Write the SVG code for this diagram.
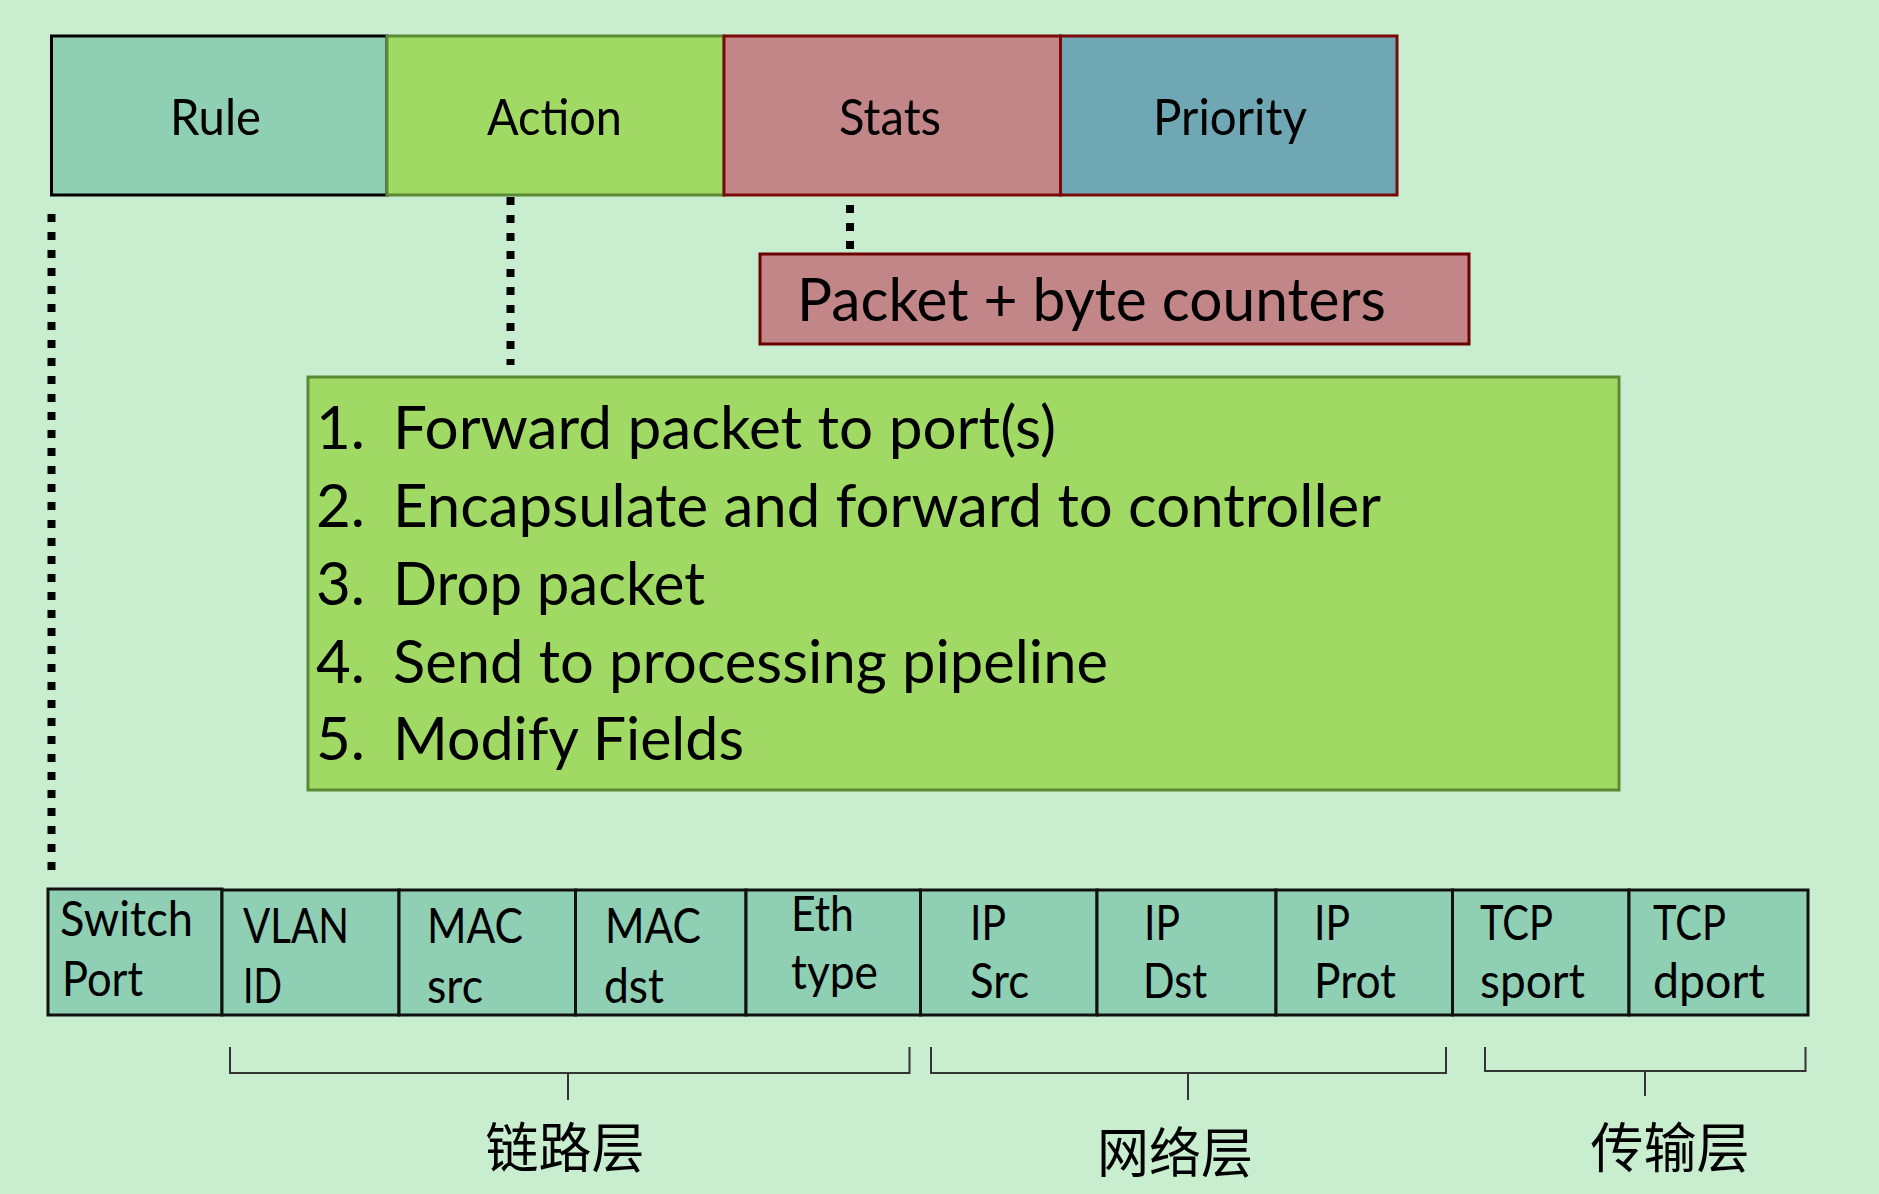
<svg xmlns="http://www.w3.org/2000/svg" width="1879" height="1194" viewBox="0 0 1879 1194">
<style>
.t{font-family:Lato,"Open Sans","Liberation Sans",sans-serif;fill:#000}
.top{font-size:50px}
.cell{font-size:48px}
.list{font-size:60px}
.cjk{font-family:"Noto Sans CJK SC","Noto Sans",sans-serif;font-size:54px;fill:#000}
.fld{fill:#8FCFB3;stroke:#111;stroke-width:3}
.dots{fill:none;stroke:#000;stroke-width:8;stroke-dasharray:8 10}
.brace{fill:none;stroke:#333;stroke-width:2}
</style>
<rect width="1879" height="1194" fill="#C8EDCF"/>

<g id="connectors">
<line class="dots" x1="51.5" y1="214" x2="51.5" y2="880"/>
<line class="dots" x1="510.5" y1="197" x2="510.5" y2="365"/>
<line class="dots" x1="850" y1="205" x2="850" y2="250"/>
</g>

<g id="rule"><rect x="51.5" y="36" width="335.5" height="159" fill="#8FD0B4" stroke="#000" stroke-width="3"/>
<text class="t top" x="170" y="135" textLength="91" lengthAdjust="spacingAndGlyphs">Rule</text></g>
<g id="action"><rect x="387" y="36" width="337" height="159" fill="#A0DA64" stroke="#5B8A35" stroke-width="3"/>
<text class="t top" x="487" y="135" textLength="135" lengthAdjust="spacingAndGlyphs">Action</text></g>
<g id="stats"><rect x="724" y="36" width="336.5" height="159" fill="#C38688" stroke="#7A0A0A" stroke-width="3"/>
<text class="t top" x="839" y="135" textLength="102" lengthAdjust="spacingAndGlyphs">Stats</text></g>
<g id="priority"><rect x="1060.5" y="36" width="336.5" height="159" fill="#6FA7B5" stroke="#7A0A0A" stroke-width="3"/>
<text class="t top" x="1153" y="135" textLength="154" lengthAdjust="spacingAndGlyphs">Priority</text></g>

<g id="counters"><rect x="760" y="254" width="709" height="90" fill="#C38688" stroke="#6B0000" stroke-width="3"/>
<text class="t list" x="797" y="321" textLength="589" lengthAdjust="spacingAndGlyphs">Packet + byte counters</text></g>

<g id="actions"><rect x="308" y="377" width="1311" height="413" fill="#A0DA64" stroke="#5B8A35" stroke-width="3"/>
<text class="t list" x="316" y="449">1.</text><text class="t list" x="393" y="449" textLength="663" lengthAdjust="spacingAndGlyphs">Forward packet to port(s)</text>
<text class="t list" x="316" y="527">2.</text><text class="t list" x="393" y="527" textLength="988" lengthAdjust="spacingAndGlyphs">Encapsulate and forward to controller</text>
<text class="t list" x="316" y="605">3.</text><text class="t list" x="393" y="605" textLength="312" lengthAdjust="spacingAndGlyphs">Drop packet</text>
<text class="t list" x="316" y="683">4.</text><text class="t list" x="393" y="683" textLength="715" lengthAdjust="spacingAndGlyphs">Send to processing pipeline</text>
<text class="t list" x="316" y="760">5.</text><text class="t list" x="393" y="760" textLength="351" lengthAdjust="spacingAndGlyphs">Modify Fields</text>
</g>

<g id="switch-port"><rect class="fld" x="48" y="889" width="174" height="126"/>
<text class="t cell" x="60" y="936" textLength="133" lengthAdjust="spacingAndGlyphs">Switch</text><text class="t cell" x="62" y="996" textLength="81" lengthAdjust="spacingAndGlyphs">Port</text></g>
<g id="vlan-id"><rect class="fld" x="222" y="890" width="177" height="125"/>
<text class="t cell" x="243" y="943" textLength="106" lengthAdjust="spacingAndGlyphs">VLAN</text><text class="t cell" x="243" y="1003" textLength="39" lengthAdjust="spacingAndGlyphs">ID</text></g>
<g id="mac-src"><rect class="fld" x="399" y="890" width="176.5" height="125"/>
<text class="t cell" x="427" y="943" textLength="96" lengthAdjust="spacingAndGlyphs">MAC</text><text class="t cell" x="427" y="1003" textLength="56" lengthAdjust="spacingAndGlyphs">src</text></g>
<g id="mac-dst"><rect class="fld" x="575.5" y="890" width="170.5" height="125"/>
<text class="t cell" x="605" y="943" textLength="96" lengthAdjust="spacingAndGlyphs">MAC</text><text class="t cell" x="604" y="1003" textLength="60" lengthAdjust="spacingAndGlyphs">dst</text></g>
<g id="eth-type"><rect class="fld" x="746" y="890" width="174.5" height="125"/>
<text class="t cell" x="791" y="931" textLength="63" lengthAdjust="spacingAndGlyphs">Eth</text><text class="t cell" x="791" y="989" textLength="87" lengthAdjust="spacingAndGlyphs">type</text></g>
<g id="ip-src"><rect class="fld" x="920.5" y="890" width="176.5" height="125"/>
<text class="t cell" x="970" y="940" textLength="36" lengthAdjust="spacingAndGlyphs">IP</text><text class="t cell" x="970" y="998" textLength="59" lengthAdjust="spacingAndGlyphs">Src</text></g>
<g id="ip-dst"><rect class="fld" x="1097" y="890" width="179" height="125"/>
<text class="t cell" x="1144" y="940" textLength="36" lengthAdjust="spacingAndGlyphs">IP</text><text class="t cell" x="1143" y="998" textLength="64" lengthAdjust="spacingAndGlyphs">Dst</text></g>
<g id="ip-prot"><rect class="fld" x="1276" y="890" width="176.5" height="125"/>
<text class="t cell" x="1314" y="940" textLength="36" lengthAdjust="spacingAndGlyphs">IP</text><text class="t cell" x="1314" y="998" textLength="82" lengthAdjust="spacingAndGlyphs">Prot</text></g>
<g id="tcp-sport"><rect class="fld" x="1452.5" y="890" width="176.5" height="125"/>
<text class="t cell" x="1480" y="940" textLength="73" lengthAdjust="spacingAndGlyphs">TCP</text><text class="t cell" x="1480" y="998" textLength="105" lengthAdjust="spacingAndGlyphs">sport</text></g>
<g id="tcp-dport"><rect class="fld" x="1629" y="890" width="179" height="125"/>
<text class="t cell" x="1653" y="940" textLength="73" lengthAdjust="spacingAndGlyphs">TCP</text><text class="t cell" x="1653" y="998" textLength="112" lengthAdjust="spacingAndGlyphs">dport</text></g>

<g id="link-layer"><path class="brace" d="M230 1047 V1073 H909.5 V1047 M568 1073 V1100"/>
<text class="cjk" x="565" y="1168" text-anchor="middle" textLength="159" lengthAdjust="spacingAndGlyphs">链路层</text></g>
<g id="network-layer"><path class="brace" d="M931 1047 V1073 H1446 V1047 M1188 1073 V1100"/>
<text class="cjk" x="1175" y="1173" text-anchor="middle" textLength="156" lengthAdjust="spacingAndGlyphs">网络层</text></g>
<g id="transport-layer"><path class="brace" d="M1485 1047 V1071 H1805.5 V1047 M1645 1071 V1096"/>
<text class="cjk" x="1670" y="1168" text-anchor="middle" textLength="159" lengthAdjust="spacingAndGlyphs">传输层</text></g>
</svg>
